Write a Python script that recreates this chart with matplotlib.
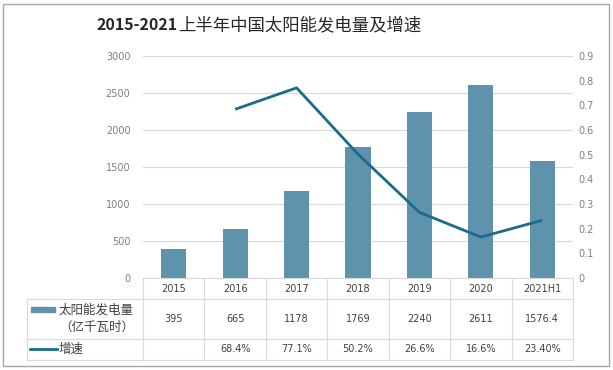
import matplotlib.pyplot as plt
import matplotlib.transforms as mtransforms
from matplotlib.patches import Rectangle

plt.rcParams['font.family'] = ['Noto Sans CJK SC', 'DejaVu Sans']

# --- data ---
years = ['2015', '2016', '2017', '2018', '2019', '2020', '2021H1']
power = [395, 665, 1178, 1769, 2240, 2611, 1576.4]
power_labels = ['395', '665', '1178', '1769', '2240', '2611', '1576.4']
growth_years = [1, 2, 3, 4, 5, 6]
growth = [0.684, 0.771, 0.502, 0.266, 0.166, 0.234]
growth_labels = ['', '68.4%', '77.1%', '50.2%', '26.6%', '16.6%', '23.40%']

bar_color = '#5E93AB'
line_color = '#1A6B8C'
grid_color = '#D9D9D9'
text_color = '#404040'
tick_color = '#7F7F7F'
num_font = 'DejaVu Sans'

W, H = 613, 370
fig = plt.figure(figsize=(W / 100, H / 100), dpi=100)


def px_box(x0, y0, x1, y1):
    # pixel box (top-left origin) -> figure fraction
    return [x0 / W, 1 - y1 / H, (x1 - x0) / W, (y1 - y0) / H]


# --- chart ---
ax = fig.add_axes(px_box(143, 56, 573, 278))
x = list(range(len(years)))
ax.bar(x, power, width=0.41, color=bar_color, zorder=2)
ax.set_xlim(-0.5, len(years) - 0.5)
ax.set_ylim(0, 3000)
ax.set_yticks(range(0, 3001, 500))
ax.set_xticks([])
ax.grid(axis='y', color=grid_color, lw=0.8, zorder=0)
ax.tick_params(axis='y', length=0, pad=9, labelsize=7, labelcolor=tick_color)
for s in ax.spines.values():
    s.set_visible(False)

ax2 = ax.twinx()
ax2.plot(growth_years, growth, color=line_color, lw=2, solid_capstyle='butt', zorder=3)
ax2.set_ylim(0, 0.9)
ax2.set_yticks([i / 10 for i in range(10)])
ax2.set_yticklabels(['0'] + ['%.1f' % (i / 10) for i in range(1, 10)])
ax2.tick_params(axis='y', length=0, pad=4, labelsize=7, labelcolor=tick_color)
for s in ax2.spines.values():
    s.set_visible(False)
for lab in ax.get_yticklabels() + ax2.get_yticklabels():
    lab.set_family(num_font)

# --- overlay in pixel coordinates for title, table and border ---
tab = fig.add_axes([0, 0, 1, 1])
tab.set_xlim(0, W)
tab.set_ylim(H, 0)
tab.axis('off')
tab.patch.set_visible(False)

tab.add_patch(Rectangle((3, 4), 606, 362, fill=False, edgecolor='#A6A6A6', lw=1))

tab.text(178, 25, '2015-2021', ha='right', va='center', fontsize=11.5,
         fontweight='bold', color='#262626')
tab.text(178, 25, '上半年中国太阳能发电量及增速', ha='left', va='center',
         fontsize=12.5, color='#262626')

# data table under the axis
trans = mtransforms.blended_transform_factory(ax.transData, tab.transData)
rows = [278, 299, 339, 360]
for yv in rows:
    tab.plot([-0.5, len(years) - 0.5], [yv, yv], color=grid_color, lw=0.8, transform=trans)
for i in range(len(years) + 1):
    tab.plot([i - 0.5, i - 0.5], [278, 360], color=grid_color, lw=0.8, transform=trans)
for yv in rows[1:]:
    tab.plot([27, 143], [yv, yv], color=grid_color, lw=0.8)
tab.plot([27, 27], [299, 360], color=grid_color, lw=0.8)

for i in x:
    tab.text(i, 288.5, years[i], ha='center', va='center', fontsize=7,
             color=text_color, transform=trans, family=num_font)
    tab.text(i, 319, power_labels[i], ha='center', va='center', fontsize=7,
             color=text_color, transform=trans, family=num_font)
    tab.text(i, 349.5, growth_labels[i], ha='center', va='center', fontsize=7,
             color=text_color, transform=trans, family=num_font)

# legend keys in the first column
tab.add_patch(Rectangle((31, 307), 24, 5, color=bar_color))
tab.text(59, 310, '太阳能发电量', ha='left', va='center', fontsize=9, color=text_color)
tab.text(59, 327, '（亿千瓦时）', ha='left', va='center', fontsize=9, color=text_color)
tab.plot([30, 57], [349, 349], color=line_color, lw=2)
tab.text(59, 349, '增速', ha='left', va='center', fontsize=9, color=text_color)

fig.savefig('out.png', dpi=100)
